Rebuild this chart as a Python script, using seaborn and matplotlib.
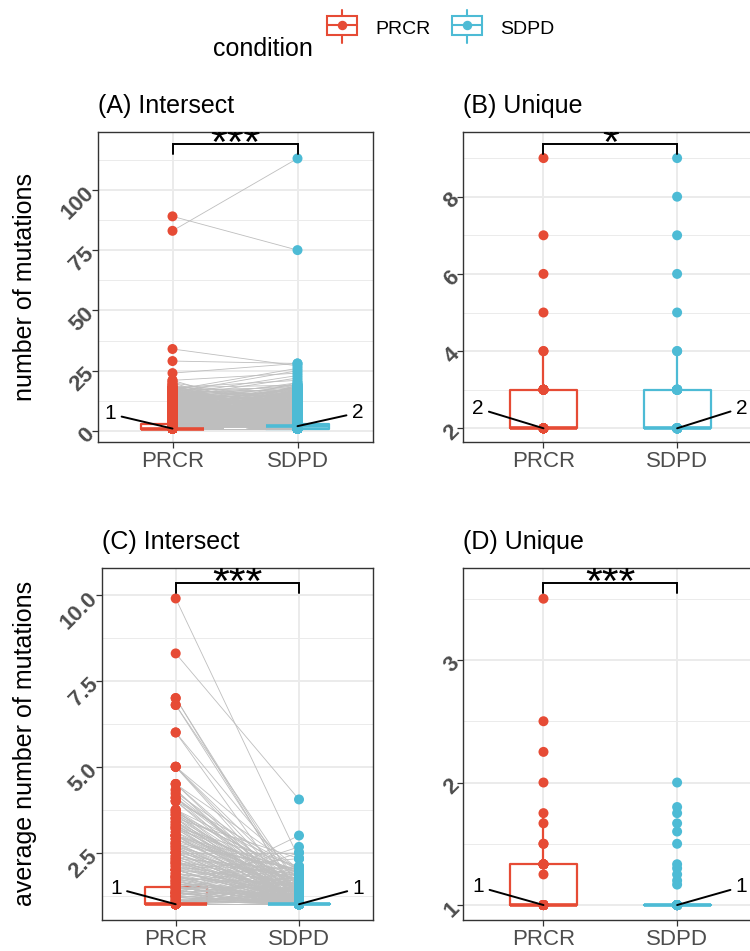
import numpy as np
import pandas as pd
import matplotlib
matplotlib.use("Agg")
import matplotlib.pyplot as plt
from matplotlib.transforms import offset_copy
from matplotlib.lines import Line2D
from matplotlib.patches import Rectangle
from matplotlib.ticker import FixedLocator
import seaborn as sns

sns.set_style("white")
plt.rcParams["font.family"] = ["Liberation Sans", "DejaVu Sans"]
plt.rcParams["text.color"] = "black"
plt.rcParams["axes.labelcolor"] = "black"

W, H = 750, 951
conditions = ["PRCR", "SDPD"]
colors = ["#E64B35", "#4DBBD5"]

# (A) paired number of intersect mutations: (PRCR, SDPD, samples)
intersect_counts = [
    (1, 1, 220), (1, 2, 130), (1, 3, 46), (1, 4, 3), (1, 5, 2), (1, 6, 3), (1, 7, 2),
    (1, 8, 1), (1, 9, 1), (1, 10, 1), (1, 11, 1), (1, 12, 1), (1, 13, 1), (1, 14, 1),
    (1, 16, 1), (1, 18, 1),
    (2, 1, 34), (2, 2, 45), (2, 3, 13), (2, 4, 2), (2, 5, 1), (2, 6, 1), (2, 7, 1),
    (2, 8, 1), (2, 9, 1), (2, 10, 1), (2, 11, 1), (2, 12, 1), (2, 13, 1), (2, 15, 1), (2, 17, 1),
    (3, 1, 20), (3, 2, 18), (3, 3, 19), (3, 4, 3), (3, 5, 1), (3, 6, 1), (3, 7, 1),
    (3, 8, 1), (3, 9, 1), (3, 10, 1), (3, 12, 1), (3, 14, 1), (3, 16, 1), (3, 19, 1),
    (4, 1, 3), (4, 2, 3), (4, 3, 4), (4, 4, 2), (4, 5, 1), (4, 6, 1), (4, 7, 1), (4, 8, 1),
    (4, 9, 1), (4, 10, 1), (4, 11, 1), (4, 13, 1), (4, 15, 1), (4, 17, 1),
    (5, 1, 2), (5, 2, 2), (5, 3, 2), (5, 4, 1), (5, 5, 1), (5, 6, 1), (5, 7, 1), (5, 9, 1),
    (5, 11, 1), (5, 12, 1), (5, 13, 1), (5, 14, 1), (5, 16, 1), (5, 19, 1),
    (6, 1, 1), (6, 2, 2), (6, 3, 1), (6, 4, 1), (6, 5, 1), (6, 7, 1), (6, 8, 1), (6, 10, 1),
    (6, 12, 1), (6, 13, 1), (6, 15, 1), (6, 18, 1),
    (7, 1, 1), (7, 2, 1), (7, 3, 1), (7, 4, 1), (7, 5, 1), (7, 6, 1), (7, 8, 1), (7, 9, 1),
    (7, 11, 1), (7, 14, 1), (7, 16, 1), (7, 17, 1),
    (8, 1, 1), (8, 2, 1), (8, 3, 1), (8, 4, 1), (8, 5, 1), (8, 7, 1), (8, 9, 1), (8, 10, 1),
    (8, 12, 1), (8, 13, 1), (8, 15, 1), (8, 17, 1), (8, 20, 1),
    (9, 1, 1), (9, 2, 1), (9, 3, 1), (9, 4, 1), (9, 6, 1), (9, 8, 1), (9, 10, 1), (9, 11, 1),
    (9, 12, 1), (9, 14, 1), (9, 16, 1), (9, 18, 1),
    (10, 1, 1), (10, 2, 1), (10, 3, 1), (10, 5, 1), (10, 7, 1), (10, 9, 1), (10, 11, 1),
    (10, 13, 1), (10, 15, 1), (10, 16, 1), (10, 18, 1),
    (11, 1, 1), (11, 2, 1), (11, 3, 1), (11, 4, 1), (11, 6, 1), (11, 8, 1), (11, 10, 1),
    (11, 12, 1), (11, 14, 1), (11, 16, 1), (11, 18, 1),
    (12, 1, 1), (12, 2, 1), (12, 3, 1), (12, 5, 1), (12, 7, 1), (12, 9, 1), (12, 11, 1),
    (12, 13, 1), (12, 15, 1), (12, 17, 1), (12, 19, 1),
    (13, 1, 1), (13, 2, 1), (13, 4, 1), (13, 5, 1), (13, 8, 1), (13, 9, 1), (13, 11, 1),
    (13, 14, 1), (13, 16, 1), (13, 17, 1), (13, 20, 1),
    (14, 1, 1), (14, 2, 1), (14, 3, 1), (14, 6, 1), (14, 7, 1), (14, 9, 1), (14, 11, 1),
    (14, 13, 1), (14, 15, 1), (14, 18, 1), (14, 22, 1),
    (15, 1, 1), (15, 3, 1), (15, 4, 1), (15, 7, 1), (15, 8, 1), (15, 10, 1), (15, 13, 1),
    (15, 16, 1), (15, 19, 1), (15, 23, 1),
    (16, 2, 1), (16, 4, 1), (16, 5, 1), (16, 8, 1), (16, 10, 1), (16, 12, 1), (16, 14, 1),
    (16, 17, 1), (16, 25, 1),
    (17, 1, 1), (17, 3, 1), (17, 6, 1), (17, 9, 1), (17, 11, 1), (17, 14, 1), (17, 15, 1),
    (17, 18, 1), (17, 26, 1),
    (18, 2, 1), (18, 5, 1), (18, 8, 1), (18, 12, 1), (18, 16, 1), (18, 19, 1), (18, 21, 1),
    (19, 3, 1), (19, 5, 1), (19, 11, 1),
    (20, 4, 1), (20, 12, 1),
    (21, 6, 1), (21, 24, 1),
    (24, 28, 1), (29, 28, 1), (34, 27, 1), (83, 113, 1), (89, 75, 1),
]

# (C) paired average number of intersect mutations: (PRCR, SDPD, samples)
intersect_average = [
    (1.0, 1.0, 350), (1.0, 1.1, 1), (1.0, 1.2, 1), (1.0, 1.33, 1), (1.0, 1.4, 1), (1.0, 1.5, 1),
    (1.0, 1.67, 1), (1.0, 1.75, 1), (1.0, 1.9, 1), (1.0, 2.0, 1), (1.0, 2.1, 1),
    (1.1, 1.0, 3), (1.1, 1.3, 1),
    (1.14, 1.0, 2),
    (1.2, 1.0, 3), (1.2, 1.5, 1),
    (1.25, 1.0, 4), (1.25, 1.8, 1), (1.25, 3.0, 1),
    (1.33, 1.0, 6), (1.33, 1.33, 1), (1.33, 1.6, 1), (1.33, 2.5, 1),
    (1.4, 1.0, 2), (1.4, 1.2, 1), (1.4, 1.8, 1),
    (1.5, 1.0, 14), (1.5, 1.1, 1), (1.5, 1.25, 1), (1.5, 1.5, 1), (1.5, 1.9, 1), (1.5, 2.67, 1),
    (1.6, 1.0, 2), (1.6, 1.2, 1), (1.6, 1.4, 1),
    (1.67, 1.0, 3), (1.67, 2.0, 1),
    (1.7, 1.1, 1),
    (1.75, 1.0, 2), (1.75, 1.6, 1),
    (1.8, 1.0, 2), (1.8, 1.4, 1), (1.8, 2.1, 1),
    (1.83, 1.0, 1), (1.83, 1.25, 1),
    (1.9, 1.0, 1), (1.9, 1.33, 1), (1.9, 1.5, 1),
    (2.0, 1.0, 4), (2.0, 1.1, 1), (2.0, 1.5, 1), (2.0, 1.67, 1), (2.0, 2.33, 1),
    (2.1, 1.0, 1), (2.1, 1.2, 1), (2.1, 1.6, 1),
    (2.17, 1.0, 1), (2.17, 1.75, 1),
    (2.2, 1.0, 1), (2.2, 1.33, 1), (2.2, 1.9, 1),
    (2.25, 1.0, 2), (2.25, 1.33, 1),
    (2.3, 1.5, 1),
    (2.33, 1.0, 2), (2.33, 2.0, 1),
    (2.4, 1.0, 1), (2.4, 1.2, 1), (2.4, 1.75, 1),
    (2.5, 1.0, 3), (2.5, 1.2, 1), (2.5, 1.75, 1), (2.5, 2.5, 1),
    (2.6, 1.0, 1), (2.6, 1.1, 1), (2.6, 1.5, 1),
    (2.67, 1.0, 2), (2.67, 1.8, 1),
    (2.7, 1.25, 1),
    (2.75, 1.0, 1), (2.75, 1.4, 1), (2.75, 2.0, 1),
    (2.8, 1.0, 1), (2.8, 1.14, 1), (2.8, 2.0, 1),
    (2.9, 1.2, 1), (2.9, 1.33, 1), (2.9, 1.67, 1),
    (3.0, 1.0, 3), (3.0, 1.33, 1), (3.0, 1.6, 1), (3.0, 1.8, 1), (3.0, 2.0, 1),
    (3.1, 1.1, 1), (3.1, 1.5, 1),
    (3.2, 1.0, 1), (3.2, 1.14, 1), (3.2, 1.9, 1),
    (3.25, 1.0, 1), (3.25, 1.4, 1), (3.25, 2.1, 1),
    (3.3, 1.2, 1),
    (3.33, 1.0, 1), (3.33, 1.67, 1),
    (3.4, 1.0, 1), (3.4, 1.25, 1), (3.4, 1.6, 1),
    (3.5, 1.0, 2), (3.5, 1.5, 1), (3.5, 2.33, 1),
    (3.6, 1.0, 1), (3.6, 1.25, 1), (3.6, 1.9, 1),
    (3.67, 1.0, 1), (3.67, 1.8, 1),
    (3.7, 1.33, 1),
    (3.75, 1.0, 1), (3.75, 1.5, 1), (3.75, 2.0, 1),
    (4.0, 1.0, 1), (4.0, 1.25, 1), (4.0, 2.0, 1),
    (4.1, 1.0, 1), (4.1, 1.4, 1), (4.1, 1.6, 1),
    (4.2, 1.33, 1),
    (4.25, 1.75, 1),
    (4.33, 1.0, 1), (4.33, 1.17, 1),
    (4.5, 1.1, 1), (4.5, 1.33, 1), (4.5, 2.0, 1),
    (5.0, 1.0, 1), (5.0, 1.25, 1), (5.0, 1.5, 1), (5.0, 2.0, 1),
    (6.0, 1.0, 1), (6.0, 1.67, 1),
    (6.8, 1.2, 1), (6.8, 1.5, 1),
    (7.0, 1.1, 1), (7.0, 1.25, 1),
    (8.3, 4.05, 1),
    (9.9, 2.33, 1),
]

# (B) number of unique mutations: values and samples per condition
unique_prcr_values = [2, 3, 4, 5, 6, 7, 9]
unique_prcr_samples = [20, 10, 2, 1, 1, 1, 1]
unique_sdpd_values = [2, 3, 4, 5, 6, 7, 8, 9]
unique_sdpd_samples = [20, 10, 2, 1, 1, 1, 1, 1]

# (D) average number of unique mutations
unique_avg_prcr_values = [1.0, 1.25, 1.333, 1.5, 1.667, 1.75, 2.0, 2.25, 2.5, 3.5]
unique_avg_prcr_samples = [17, 1, 7, 2, 1, 1, 1, 1, 1, 1]
unique_avg_sdpd_values = [1.0, 1.167, 1.2, 1.25, 1.3, 1.333, 1.5, 1.6, 1.667, 1.75, 1.8, 2.0]
unique_avg_sdpd_samples = [45, 1, 1, 1, 1, 1, 1, 1, 1, 1, 1, 1]

panel_titles = ["(A) Intersect", "(B) Unique", "(C) Intersect", "(D) Unique"]
significance = ["***", "*", "***", "***"]


def paired_frame(triples):
    rows = []
    pid = 0
    for p, s, n in triples:
        for _ in range(n):
            rows.append((pid, "PRCR", 0, p))
            rows.append((pid, "SDPD", 1, s))
            pid += 1
    return pd.DataFrame(rows, columns=["pair", "condition", "xpos", "value"])


def unpaired_frame(pv, pn, sv, sn):
    parts = []
    for i, (vals, counts) in enumerate([(pv, pn), (sv, sn)]):
        v = np.repeat(np.asarray(vals, float), counts)
        parts.append(pd.DataFrame({"condition": conditions[i], "xpos": i, "value": v}))
    return pd.concat(parts, ignore_index=True)


frames = [
    paired_frame(intersect_counts),
    unpaired_frame(unique_prcr_values, unique_prcr_samples, unique_sdpd_values, unique_sdpd_samples),
    paired_frame(intersect_average),
    unpaired_frame(unique_avg_prcr_values, unique_avg_prcr_samples,
                   unique_avg_sdpd_values, unique_avg_sdpd_samples),
]
paired = [True, False, True, False]

# panel boxes in pixels: left, right, top, bottom
boxes = [(97.5, 372.5, 131.7, 441.7), (463.3, 757.3, 131.7, 441.7),
         (101.7, 373.0, 567.7, 920.0), (463.3, 757.3, 567.7, 920.0)]
ylims = [(-4.44, 124.1), (1.653, 9.684), (0.541, 10.795), (0.878, 3.753)]
major = [[0, 25, 50, 75, 100], [2, 4, 6, 8], [2.5, 5.0, 7.5, 10.0], [1, 2, 3]]
minor = [[12.5, 37.5, 62.5, 87.5, 112.5], [3, 5, 7, 9], [1.25, 3.75, 6.25, 8.75], [1.5, 2.5, 3.5]]
fmts = ["{:g}", "{:g}", "{:.1f}", "{:g}"]
brackets = [(118.9, 114.8), (9.358, 9.106), (10.34, 10.067), (3.626, 3.549)]
label_offsets = [[(-62, 14.6), (60, 13.3)], [(-65.6, 20), (64.4, 20.3)],
                 [(-59.7, 16), (59.3, 16)], [(-65, 18.3), (64.4, 18.3)]]
ylabels = {0: "number of mutations", 2: "average number of mutations"}

fig = plt.figure(figsize=(W / 100, H / 100), dpi=100)
fig.patch.set_facecolor("white")

grid_col = "#EBEBEB"
frame_col = "#333333"
tick_col = "#4D4D4D"

for k in range(4):
    l, r, t, b = boxes[k]
    ax = fig.add_axes([l / W, 1 - b / H, (r - l) / W, (b - t) / H])
    df = frames[k]

    sns.boxplot(data=df, x="xpos", y="value", hue="condition", hue_order=conditions,
                palette=colors, fill=False, width=0.5, dodge=False, showfliers=False,
                showcaps=False, linewidth=1.6, whis=1.5,
                medianprops=dict(linewidth=2.6), legend=False, ax=ax)
    if paired[k]:
        sns.lineplot(data=df, x="xpos", y="value", units="pair", estimator=None,
                     color="#BEBEBE", linewidth=0.6, sort=False, legend=False, ax=ax)
    sns.stripplot(data=df, x="xpos", y="value", hue="condition", hue_order=conditions,
                  palette=colors, jitter=False, dodge=False, size=7.2, linewidth=0,
                  legend=False, ax=ax, zorder=3)

    ax.set_xlim(-0.6, 1.6)
    ax.set_ylim(*ylims[k])
    ax.set_xticks([0, 1])
    ax.set_xticklabels(conditions)
    ax.set_yticks(major[k])
    ax.set_yticklabels([fmts[k].format(v) for v in major[k]])
    ax.yaxis.set_minor_locator(FixedLocator(minor[k]))
    ax.set_xlabel("")
    ax.set_ylabel("")

    ax.set_axisbelow(True)
    ax.grid(True, which="major", color=grid_col, linewidth=1.4)
    ax.grid(True, which="minor", axis="y", color=grid_col, linewidth=0.7)
    for sp in ax.spines.values():
        sp.set_visible(True)
        sp.set_color(frame_col)
        sp.set_linewidth(1.0)
    ax.tick_params(which="major", direction="out", length=4, width=0.9, color=frame_col,
                   left=True, bottom=True)
    ax.tick_params(which="minor", length=0)
    ax.tick_params(axis="x", labelsize=16, labelcolor=tick_col, pad=2.6)
    ax.tick_params(axis="y", labelsize=16, labelcolor=tick_col, pad=1)
    for lab in ax.get_yticklabels():
        lab.set_fontweight("bold")
        lab.set_rotation(45)
        lab.set_rotation_mode("anchor")
        lab.set_ha("right")
        lab.set_va("center")

    # median labels
    for i, cond in enumerate(conditions):
        med = float(np.median(df.loc[df["condition"] == cond, "value"]))
        dx, dy = label_offsets[k][i]
        ax.annotate(f"{med:g}", xy=(i, med), xytext=(dx, dy), textcoords="offset pixels",
                    ha="center", va="center", fontsize=15, zorder=6, annotation_clip=False,
                    arrowprops=dict(arrowstyle="-", color="black", lw=1.4,
                                    shrinkA=1.5, shrinkB=0))

    # significance bracket
    yb, yt = brackets[k]
    ax.plot([0, 0, 1, 1], [yt, yb, yb, yt], color="black", lw=1.4, zorder=6,
            solid_joinstyle="miter", clip_on=False)
    ax.text(0.5, yb, significance[k], ha="center", va="baseline", fontsize=31,
            transform=offset_copy(ax.transData, fig=fig, y=-12.0, units="dots"),
            clip_on=True, zorder=6)

    # panel title
    ax.text(0, 1, panel_titles[k], ha="left", va="baseline", fontsize=18,
            transform=offset_copy(ax.transAxes, fig=fig, y=19.0, units="dots"))

    if k in ylabels:
        fig.text(25.5 / W, 1 - ((t + b) / 2) / H, ylabels[k], rotation=90,
                 ha="center", va="center", fontsize=18)

# legend
fig.text(213 / W, 1 - 56.5 / H, "condition", fontsize=18, ha="left", va="baseline")
for cx, tx, cond, col in [(341.7, 375, "PRCR", colors[0]), (466.7, 500, "SDPD", colors[1])]:
    fig.add_artist(Rectangle(((cx - 15) / W, 1 - 35 / H), 30 / W, 19.3 / H,
                             transform=fig.transFigure, fill=False, edgecolor=col, lw=1.5))
    for y0, y1 in [(10, 15.7), (35, 42.7)]:
        fig.add_artist(Line2D([cx / W, cx / W], [1 - y0 / H, 1 - y1 / H],
                              transform=fig.transFigure, color=col, lw=1.5))
    fig.add_artist(Line2D([(cx - 15) / W, (cx + 15) / W], [1 - 25.3 / H] * 2,
                          transform=fig.transFigure, color=col, lw=1.5))
    fig.add_artist(Line2D([cx / W], [1 - 25.3 / H], transform=fig.transFigure,
                          marker="o", ms=5.8, color=col, lw=0))
    fig.text(tx / W, 1 - 34 / H, cond, fontsize=14, ha="left", va="baseline")

fig.savefig("out.png", dpi=100, facecolor="white")
